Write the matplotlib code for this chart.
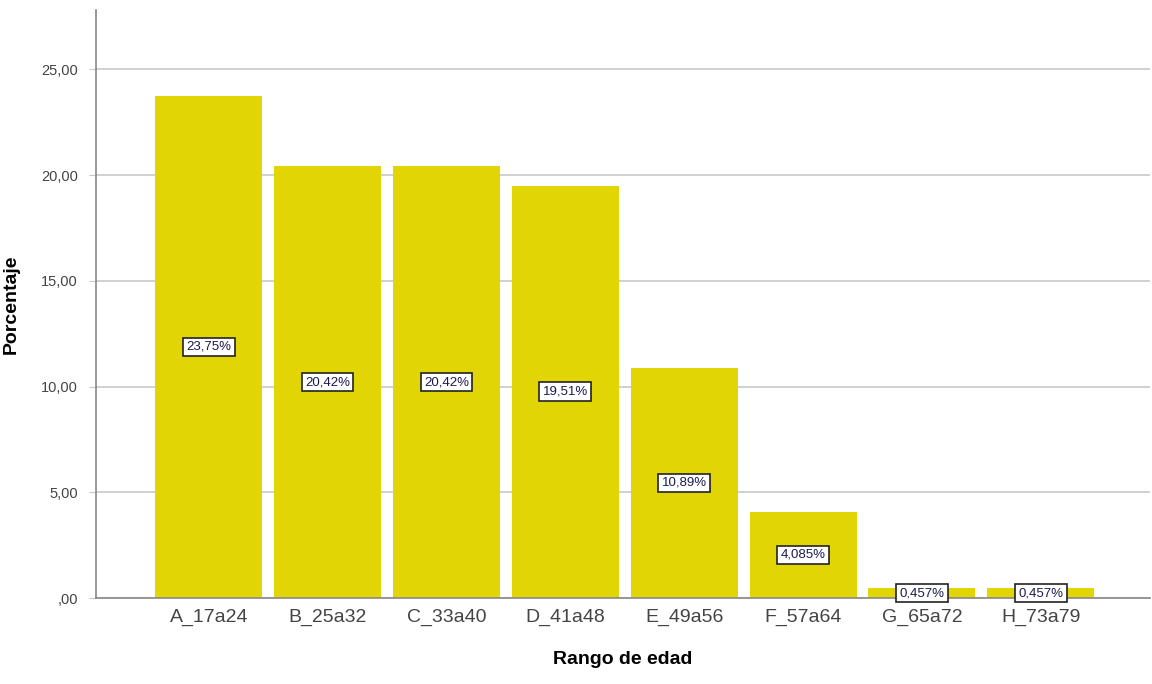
import matplotlib.pyplot as plt
import numpy as np

categorias = ["A_17a24", "B_25a32", "C_33a40", "D_41a48", "E_49a56", "F_57a64", "G_65a72", "H_73a79"]
porcentajes = [23.75, 20.42, 20.42, 19.51, 10.89, 4.085, 0.457, 0.457]
etiquetas = ["23,75%", "20,42%", "20,42%", "19,51%", "10,89%", "4,085%", "0,457%", "0,457%"]
yticks = [0, 5, 10, 15, 20, 25]
ytick_labels = [",00", "5,00", "10,00", "15,00", "20,00", "25,00"]

plt.rcParams["font.family"] = ["Liberation Sans", "DejaVu Sans"]

fig = plt.figure(figsize=(11.52, 6.84), dpi=100)
ax = fig.add_axes([0.0833, 0.1257, 0.915, 0.8593])

x = np.arange(len(categorias))
ax.bar(x, porcentajes, width=0.9, color="#E2D505", zorder=2)

for xi, v, txt in zip(x, porcentajes, etiquetas):
    ax.text(xi, v / 2, txt, ha="center", va="center", fontsize=9.5, color="#1a1a50", zorder=3,
            bbox=dict(boxstyle="square,pad=0.25", facecolor="white", edgecolor="#222222", linewidth=1.2))

ax.set_xlim(-0.95, 7.92)
ax.set_ylim(0, 27.8)
ax.set_yticks(yticks)
ax.set_yticklabels(ytick_labels)
ax.set_xticks(x)
ax.set_xticklabels(categorias)
ax.yaxis.grid(True, color="#c8c8c8", linewidth=1.2, zorder=0)
ax.set_axisbelow(True)

for side in ["top", "right"]:
    ax.spines[side].set_visible(False)
for side in ["left", "bottom"]:
    ax.spines[side].set_color("#888888")
    ax.spines[side].set_linewidth(1.2)

ax.tick_params(axis="y", length=5, color="#c8c8c8", labelsize=10.5, labelcolor="#444444", pad=8)
ax.tick_params(axis="x", length=0, labelsize=14, labelcolor="#444444", pad=8)

ax.set_ylabel("Porcentaje", fontsize=14, fontweight="bold")
ax.yaxis.set_label_coords(-0.072, 0.5)
ax.set_xlabel("Rango de edad", fontsize=14, fontweight="bold", labelpad=18)

fig.savefig("out.png", dpi=100)
